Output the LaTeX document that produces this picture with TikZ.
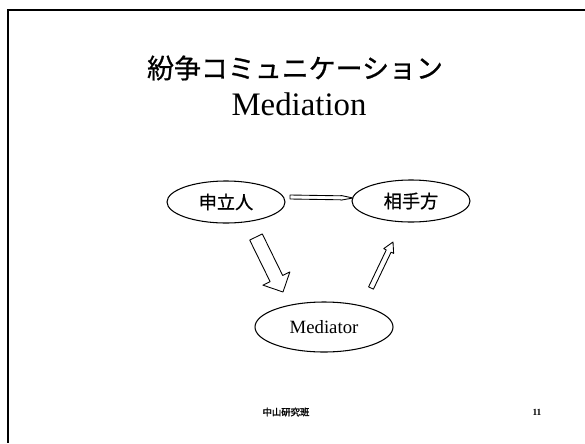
\documentclass[tikz,border=0pt]{standalone}
\usepackage{fontspec}
\setmainfont{Liberation Serif}
\newfontfamily\jp[FakeBold=0.8]{Noto Sans CJK JP}
\newfontfamily\jpbold[FakeBold=2]{Noto Sans CJK JP}
\usetikzlibrary{shapes.geometric, calc}

\tikzset{
  party/.style={draw, line width=0.9pt, ellipse, inner sep=0pt, minimum width=3.54cm, minimum height=1.26cm},
  blockline/.style={draw, line width=0.75pt, fill=white, line join=round}
}

% tail, tip, shaft half width, head half width, head length
\newcommand{\blockarrow}[5]{%
  \coordinate (hb) at ($(#2)!#5!(#1)$);
  \draw[blockline] ($(#1)!#3!90:(#2)$) -- ($(hb)!#3!90:(#2)$) -- ($(hb)!#4!90:(#2)$) -- (#2)
    -- ($(hb)!#4!-90:(#2)$) -- ($(hb)!#3!-90:(#2)$) -- ($(#1)!#3!-90:(#2)$) -- cycle;
}

\begin{document}
\begin{tikzpicture}[x=0.03cm, y=-0.03cm]
    \useasboundingbox (0,0) rectangle (585,443);

    % frame
    \draw[line width=1.7pt] (585,10) -- (8,10) -- (8,443);

    % title
    \node[name=title] at (295,68) {\jp\fontsize{23}{28}\selectfont 紛争コミュニケーション};
    \node[name=subtitle] at (299,104) {\fontsize{28}{32}\selectfont Mediation};

    % parties
    \node[party, name=app] at (226,202) {\jp\fontsize{15.5}{18}\selectfont 申立人};
    \node[party, name=res] at (411,201) {\jp\fontsize{15.5}{18}\selectfont 相手方};
    \node[party, name=med, minimum width=4.14cm, minimum height=1.5cm] at (324,327)
        {\fontsize{16}{18}\selectfont Mediator};

    % arrow ends
    \coordinate (hl) at (290,197);
    \coordinate (hr) at (353,198);
    \coordinate (dtail) at (256,237);
    \coordinate (dtip) at (283,292);
    \coordinate (utail) at (371,288);
    \coordinate (utip) at (393,242);

    % arrows
    \blockarrow{hl}{hr}{0.06cm}{0.07cm}{0.36cm}
    \blockarrow{dtail}{dtip}{0.21cm}{0.45cm}{0.45cm}
    \blockarrow{utail}{utip}{0.08cm}{0.165cm}{0.3cm}

    % footer
    \node[name=lab] at (286,412) {\jpbold\fontsize{8}{10}\selectfont 中山研究班};
    \node[name=page] at (537,412) {\bfseries\fontsize{8}{10}\selectfont 11};
\end{tikzpicture}
\end{document}
